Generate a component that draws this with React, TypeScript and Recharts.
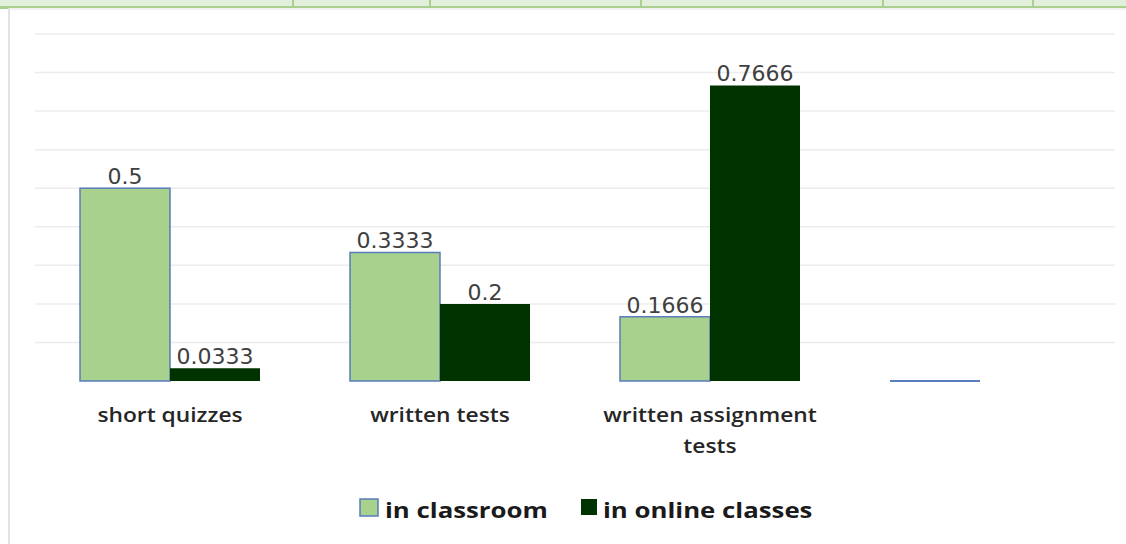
import React from "react";
import { BarChart, Bar, XAxis, YAxis, CartesianGrid, Legend, LabelList } from "recharts";

const categories = ["short quizzes", "written tests", "written assignment tests", ""];
const inClassroom = [0.5, 0.3333, 0.1666, 0];
const inOnline: (number | null)[] = [0.0333, 0.2, 0.7666, null];
const gridTicks = [0.1, 0.2, 0.3, 0.4, 0.5, 0.6, 0.7, 0.8, 0.9];
const seriesNames = ["in classroom", "in online classes"];

const data = categories.map((name, i) => ({
  name,
  classroom: inClassroom[i],
  online: inOnline[i],
}));

const LIGHT = "#a9d18e";
const LIGHT_STROKE = "#5a7dbd";
const DARK = "#013301";

function wrap(text: string, max: number): string[] {
  const words = text.split(" ");
  const lines: string[] = [];
  let cur = "";
  for (const w of words) {
    const next = cur ? cur + " " + w : w;
    if (next.length > max && cur) {
      lines.push(cur);
      cur = w;
    } else cur = next;
  }
  if (cur) lines.push(cur);
  return lines;
}

const CategoryTick = (props: any) => {
  const { x, y, payload } = props;
  const lines = wrap(String(payload.value || ""), 20);
  return (
    <g transform={`translate(${x},${y}) scale(1.2,1)`}>
      {lines.map((l, i) => (
        <text
          key={i}
          x={0}
          y={41 + i * 31}
          textAnchor="middle"
          fontFamily="'Open Sans', sans-serif"
          fontWeight={600}
          fontSize={19}
          fill="#262626"
        >
          {l}
        </text>
      ))}
    </g>
  );
};

const ValueLabel = (props: any) => {
  const { x, y, width, value } = props;
  if (!value) return null;
  return (
    <text
      x={x + width / 2}
      y={y - 4}
      textAnchor="middle"
      fontFamily="'DejaVu Sans', sans-serif"
      fontSize={22}
      fill="#404040"
    >
      {value}
    </text>
  );
};

const ClassroomShape = (props: any) => {
  const { x, y, width, height } = props;
  if (!height) {
    return <line x1={x} x2={x + width} y1={y} y2={y} stroke={LIGHT_STROKE} strokeWidth={2} />;
  }
  return (
    <rect x={x} y={y} width={width} height={height} fill={LIGHT} stroke={LIGHT_STROKE} strokeWidth={1.5} />
  );
};

const LegendContent = () => (
  <svg width={1126} height={63} style={{ display: "block" }}>
    <rect x={360} y={18} width={18} height={17} fill={LIGHT} stroke={LIGHT_STROKE} strokeWidth={1.5} />
    <text
      transform="translate(385,37) scale(1.2,1)"
      fontFamily="'Open Sans', sans-serif"
      fontWeight={700}
      fontSize={21.5}
      fill="#1a1a1a"
    >
      {seriesNames[0]}
    </text>
    <rect x={581} y={18} width={16} height={16} fill={DARK} />
    <text
      transform="translate(603,37) scale(1.2,1)"
      fontFamily="'Open Sans', sans-serif"
      fontWeight={700}
      fontSize={21.5}
      fill="#1a1a1a"
    >
      {seriesNames[1]}
    </text>
  </svg>
);

const gridGenerator = (props: any) => {
  const scale = props?.yAxis?.scale;
  if (typeof scale === "function") return gridTicks.map((t) => scale(t));
  if (scale && typeof scale.map === "function") return gridTicks.map((t) => scale.map(t));
  return [];
};

export default function App() {
  const vLines = [292, 429, 640, 882, 1032];
  return (
    <div style={{ position: "absolute", left: 0, top: 0, width: 1126, height: 544, background: "#fff", overflow: "hidden" }}>
      <div style={{ position: "absolute", left: 0, top: 0, width: 1126, height: 7, background: "#e2efda" }} />
      <div style={{ position: "absolute", left: 0, top: 6, width: 1126, height: 2, background: "#a9d08e" }} />
      {vLines.map((vx) => (
        <div key={vx} style={{ position: "absolute", left: vx, top: 0, width: 2, height: 7, background: "#a9d08e" }} />
      ))}
      <div style={{ position: "absolute", left: 0, top: 6, width: 9, height: 3, background: "#a9d08e" }} />
      <div style={{ position: "absolute", left: 9, top: 8, width: 1117, height: 2, background: "#f1f1f1" }} />
      <div style={{ position: "absolute", left: 8, top: 8, width: 2, height: 536, background: "#e3e3e3" }} />
      <div style={{ position: "absolute", left: 0, top: 0 }}>
        <BarChart
          width={1126}
          height={544}
          data={data}
          margin={{ top: 34, right: 11, left: 35, bottom: 0 }}
          barGap={0}
          barSize={90}
        >
          <CartesianGrid vertical={false} stroke="#ececec" strokeWidth={1.5} horizontalCoordinatesGenerator={gridGenerator} />
          <YAxis hide domain={[0, 0.9]} ticks={gridTicks} />
          <XAxis
            dataKey="name"
            height={100}
            tickLine={false}
            axisLine={false}
            tickSize={0}
            tickMargin={0}
            interval={0}
            tick={<CategoryTick />}
          />
          <Legend verticalAlign="bottom" height={63} wrapperStyle={{ left: 0, width: 1126, bottom: 0 }} content={<LegendContent />} />
          <Bar dataKey="classroom" name={seriesNames[0]} fill={LIGHT} shape={<ClassroomShape />} isAnimationActive={false}>
            <LabelList dataKey="classroom" content={<ValueLabel />} />
          </Bar>
          <Bar dataKey="online" name={seriesNames[1]} fill={DARK} isAnimationActive={false}>
            <LabelList dataKey="online" content={<ValueLabel />} />
          </Bar>
        </BarChart>
      </div>
    </div>
  );
}
